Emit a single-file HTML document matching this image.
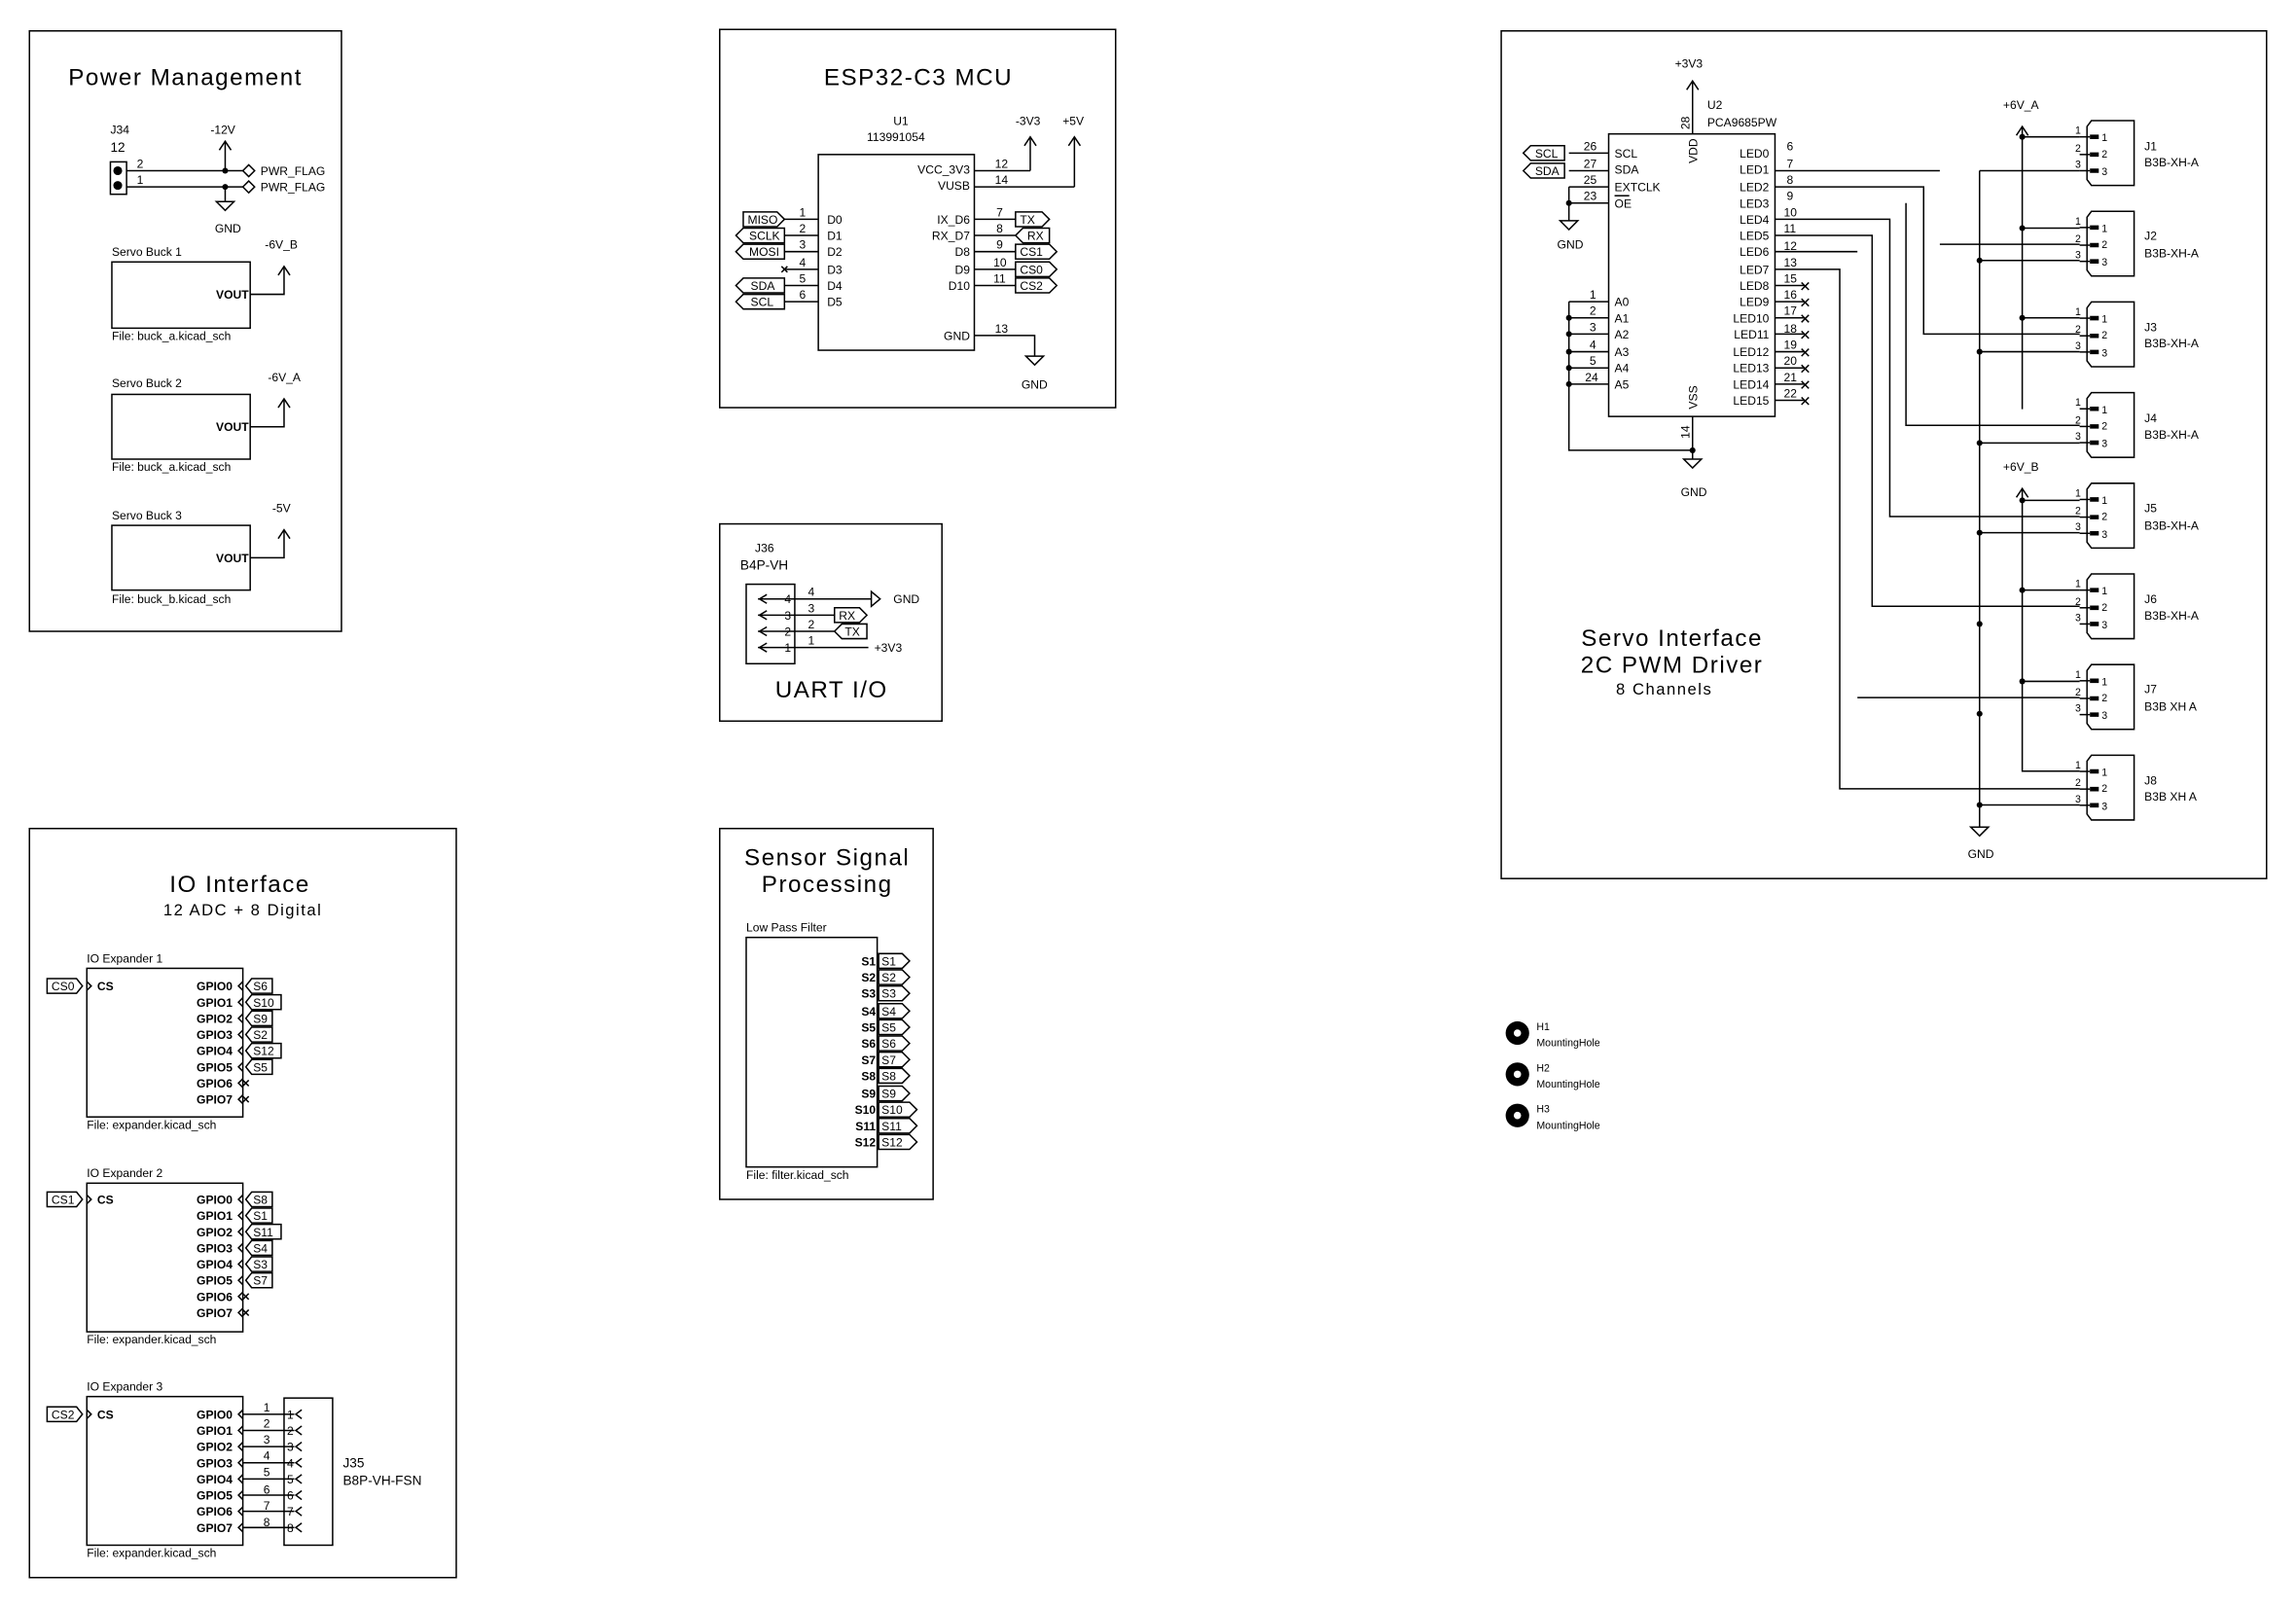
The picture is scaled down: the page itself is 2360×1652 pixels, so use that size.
<!DOCTYPE html>
<html><head><meta charset="utf-8"><style>
html,body{margin:0;padding:0;background:#fff;}
svg{display:block;}
text{font-family:"Liberation Sans",sans-serif;fill:#000;}
.t{font-size:16px;letter-spacing:1px;}
.s{font-size:8px;}
.m{font-size:9px;}
.b{font-size:8px;font-weight:bold;}
line,polyline,rect,polygon,path{stroke:#000;stroke-width:1;fill:none;}
.d{fill:#000;stroke:none;}
</style></head><body>
<svg width="2360" height="1652" viewBox="0 0 1560 1092" xmlns="http://www.w3.org/2000/svg">
<rect x="0" y="0" width="1560" height="1092" style="fill:#fff;stroke:none"/>

<!-- ===== Power Management ===== -->
<rect x="20" y="21" width="212" height="408"/>
<text class="t" x="126" y="58" text-anchor="middle">Power Management</text>
<text class="s" x="75" y="91">J34</text>
<text class="m" x="75" y="103">12</text>
<rect x="75" y="110" width="11" height="22"/>
<circle cx="80" cy="116" r="3"/><circle cx="80" cy="126" r="3"/>
<line x1="86" y1="116" x2="165" y2="116"/><line x1="86" y1="127" x2="165" y2="127"/>
<text class="s" x="93" y="114">2</text><text class="s" x="93" y="125">1</text>
<circle class="d" cx="153" cy="116" r="2"/><circle class="d" cx="153" cy="127" r="2"/>
<line x1="153" y1="116" x2="153" y2="97"/><polyline points="149,102 153,96 157,102"/>
<text class="s" x="143" y="91">-12V</text>
<line x1="153" y1="127" x2="153" y2="137"/><polygon points="147,137 159,137 153,143"/>
<text class="s" x="146" y="158">GND</text>
<polygon points="165,116 169,112 173,116 169,120"/><polygon points="165,127 169,123 173,127 169,131"/>
<text class="s" x="177" y="119">PWR_FLAG</text><text class="s" x="177" y="130">PWR_FLAG</text>

<text class="s" x="76" y="174">Servo Buck 1</text>
<rect x="76" y="178" width="94" height="45"/>
<text class="b" x="169" y="203" text-anchor="end">VOUT</text>
<polyline points="170,200 193,200 193,182"/><polyline points="189,187 193,181 197,187"/>
<text class="s" x="180" y="169">-6V_B</text>
<text class="s" x="76" y="231">File: buck_a.kicad_sch</text>

<text class="s" x="76" y="263">Servo Buck 2</text>
<rect x="76" y="268" width="94" height="44"/>
<text class="b" x="169" y="293" text-anchor="end">VOUT</text>
<polyline points="170,290 193,290 193,272"/><polyline points="189,277 193,271 197,277"/>
<text class="s" x="182" y="259">-6V_A</text>
<text class="s" x="76" y="320">File: buck_a.kicad_sch</text>

<text class="s" x="76" y="353">Servo Buck 3</text>
<rect x="76" y="357" width="94" height="44"/>
<text class="b" x="169" y="382" text-anchor="end">VOUT</text>
<polyline points="170,379 193,379 193,361"/><polyline points="189,366 193,360 197,366"/>
<text class="s" x="185" y="348">-5V</text>
<text class="s" x="76" y="410">File: buck_b.kicad_sch</text>

<!-- ===== ESP32 ===== -->
<rect x="489" y="20" width="269" height="257"/>
<text class="t" x="624" y="58" text-anchor="middle">ESP32-C3 MCU</text>
<text class="s" x="607" y="85">U1</text>
<text class="s" x="589" y="96">113991054</text>
<rect x="556" y="105" width="106" height="133"/>
<text class="s" x="662" y="118" text-anchor="end" dx="-3">VCC_3V3</text>
<text class="s" x="662" y="129" text-anchor="end" dx="-3">VUSB</text>
<line x1="662" y1="116" x2="700" y2="116"/><line x1="662" y1="127" x2="730" y2="127"/>
<text class="s" x="676" y="114">12</text><text class="s" x="676" y="125">14</text>
<line x1="700" y1="116" x2="700" y2="94"/><polyline points="696,99 700,93 704,99"/>
<line x1="730" y1="127" x2="730" y2="94"/><polyline points="726,99 730,93 734,99"/>
<text class="s" x="690" y="85">-3V3</text><text class="s" x="722" y="85">+5V</text>
<!-- left pins -->
<g>
<line x1="533" y1="149" x2="556" y2="149"/><line x1="533" y1="160" x2="556" y2="160"/>
<line x1="533" y1="171" x2="556" y2="171"/><line x1="533" y1="183" x2="556" y2="183"/>
<line x1="533" y1="194" x2="556" y2="194"/><line x1="533" y1="205" x2="556" y2="205"/>
<text class="s" x="543" y="147">1</text><text class="s" x="543" y="158">2</text><text class="s" x="543" y="169">3</text>
<text class="s" x="543" y="181">4</text><text class="s" x="543" y="192">5</text><text class="s" x="543" y="203">6</text>
<text class="s" x="562" y="152">D0</text><text class="s" x="562" y="163">D1</text><text class="s" x="562" y="174">D2</text>
<text class="s" x="562" y="186">D3</text><text class="s" x="562" y="197">D4</text><text class="s" x="562" y="208">D5</text>
<path d="M531,181 l4,4 M535,181 l-4,4"/>
<polygon points="505,144 528,144 533,149 528,154 505,154"/><text class="s" x="508" y="152">MISO</text>
<polygon points="500,160 505,155 533,155 533,165 505,165"/><text class="s" x="509" y="163">SCLK</text>
<polygon points="500,171 505,166 533,166 533,176 505,176"/><text class="s" x="509" y="174">MOSI</text>
<polygon points="500,194 505,189 533,189 533,199 505,199"/><text class="s" x="510" y="197">SDA</text>
<polygon points="500,205 505,200 533,200 533,210 505,210"/><text class="s" x="510" y="208">SCL</text>
</g>
<!-- right pins -->
<g>
<line x1="662" y1="149" x2="690" y2="149"/><line x1="662" y1="160" x2="690" y2="160"/>
<line x1="662" y1="171" x2="690" y2="171"/><line x1="662" y1="183" x2="690" y2="183"/>
<line x1="662" y1="194" x2="690" y2="194"/>
<text class="s" x="677" y="147">7</text><text class="s" x="677" y="158">8</text><text class="s" x="677" y="169">9</text>
<text class="s" x="675" y="181">10</text><text class="s" x="675" y="192">11</text>
<text class="s" x="659" y="152" text-anchor="end">IX_D6</text><text class="s" x="659" y="163" text-anchor="end">RX_D7</text>
<text class="s" x="659" y="174" text-anchor="end">D8</text><text class="s" x="659" y="186" text-anchor="end">D9</text>
<text class="s" x="659" y="197" text-anchor="end">D10</text>
<polygon points="690,144 708,144 713,149 708,154 690,154"/><text class="s" x="693" y="152">TX</text>
<polygon points="690,160 695,155 713,155 713,165 695,165"/><text class="s" x="698" y="163">RX</text>
<polygon points="690,166 713,166 718,171 713,176 690,176"/><text class="s" x="693" y="174">CS1</text>
<polygon points="690,178 713,178 718,183 713,188 690,188"/><text class="s" x="693" y="186">CS0</text>
<polygon points="690,189 713,189 718,194 713,199 690,199"/><text class="s" x="693" y="197">CS2</text>
</g>
<text class="s" x="662" y="231" text-anchor="end" dx="-3">GND</text>
<polyline points="662,228 703,228 703,242"/><text class="s" x="676" y="226">13</text>
<polygon points="697,242 709,242 703,248"/>
<text class="s" x="694" y="264">GND</text>

<!-- ===== UART ===== -->
<rect x="489" y="356" width="151" height="134"/>
<text class="s" x="513" y="375">J36</text>
<text class="m" x="503" y="387">B4P-VH</text>
<rect x="507" y="397" width="33" height="54"/>
<line x1="515" y1="407" x2="592" y2="407"/><line x1="515" y1="418" x2="567" y2="418"/>
<line x1="515" y1="429" x2="567" y2="429"/><line x1="515" y1="440" x2="590" y2="440"/>
<polyline points="521,404 516,407 521,410"/><polyline points="521,415 516,418 521,421"/>
<polyline points="521,426 516,429 521,432"/><polyline points="521,437 516,440 521,443"/>
<text class="s" x="533" y="410">4</text><text class="s" x="533" y="421">3</text><text class="s" x="533" y="432">2</text><text class="s" x="533" y="443">1</text>
<text class="s" x="549" y="405">4</text><text class="s" x="549" y="416">3</text><text class="s" x="549" y="427">2</text><text class="s" x="549" y="438">1</text>
<polygon points="592,402 592,412 598,407"/><text class="s" x="607" y="410">GND</text>
<polygon points="567,413 584,413 589,418 584,423 567,423"/><text class="s" x="570" y="421">RX</text>
<polygon points="567,429 572,424 589,424 589,434 572,434"/><text class="s" x="574" y="432">TX</text>
<text class="s" x="594" y="443">+3V3</text>
<text class="t" x="565" y="474" text-anchor="middle">UART I/O</text>

<!-- ===== Sensor ===== -->
<rect x="489" y="563" width="145" height="252"/>
<text class="t" x="562" y="588" text-anchor="middle">Sensor Signal</text>
<text class="t" x="562" y="606" text-anchor="middle">Processing</text>
<text class="s" x="507" y="633">Low Pass Filter</text>
<rect x="507" y="637" width="89" height="156"/>
<g class="b">
<text class="b" x="595" y="656" text-anchor="end">S1</text><text class="b" x="595" y="667" text-anchor="end">S2</text>
<text class="b" x="595" y="678" text-anchor="end">S3</text><text class="b" x="595" y="690" text-anchor="end">S4</text>
<text class="b" x="595" y="701" text-anchor="end">S5</text><text class="b" x="595" y="712" text-anchor="end">S6</text>
<text class="b" x="595" y="723" text-anchor="end">S7</text><text class="b" x="595" y="734" text-anchor="end">S8</text>
<text class="b" x="595" y="746" text-anchor="end">S9</text><text class="b" x="595" y="757" text-anchor="end">S10</text>
<text class="b" x="595" y="768" text-anchor="end">S11</text><text class="b" x="595" y="779" text-anchor="end">S12</text>
</g>
<polygon points="597,648 613,648 618,653 613,658 597,658"/><text class="s" x="599" y="656">S1</text>
<polygon points="597,659 613,659 618,664 613,669 597,669"/><text class="s" x="599" y="667">S2</text>
<polygon points="597,670 613,670 618,675 613,680 597,680"/><text class="s" x="599" y="678">S3</text>
<polygon points="597,682 613,682 618,687 613,692 597,692"/><text class="s" x="599" y="690">S4</text>
<polygon points="597,693 613,693 618,698 613,703 597,703"/><text class="s" x="599" y="701">S5</text>
<polygon points="597,704 613,704 618,709 613,714 597,714"/><text class="s" x="599" y="712">S6</text>
<polygon points="597,715 613,715 618,720 613,725 597,725"/><text class="s" x="599" y="723">S7</text>
<polygon points="597,726 613,726 618,731 613,736 597,736"/><text class="s" x="599" y="734">S8</text>
<polygon points="597,738 613,738 618,743 613,748 597,748"/><text class="s" x="599" y="746">S9</text>
<polygon points="597,749 618,749 623,754 618,759 597,759"/><text class="s" x="599" y="757">S10</text>
<polygon points="597,760 618,760 623,765 618,770 597,770"/><text class="s" x="599" y="768">S11</text>
<polygon points="597,771 618,771 623,776 618,781 597,781"/><text class="s" x="599" y="779">S12</text>
<text class="s" x="507" y="801">File: filter.kicad_sch</text>

<!-- ===== IO Interface ===== -->
<rect x="20" y="563" width="290" height="509"/>
<text class="t" x="163" y="606" text-anchor="middle">IO Interface</text>
<text class="m" x="165" y="622" text-anchor="middle" style="font-size:11px;letter-spacing:1px">12 ADC + 8 Digital</text>

<!-- Expander 1 -->
<text class="s" x="59" y="654">IO Expander 1</text>
<rect x="59" y="658" width="106" height="101"/>
<polygon points="32,665 52,665 56,670 52,675 32,675"/><text class="s" x="35" y="673">CS0</text>
<text class="b" x="66" y="673">CS</text><polyline points="59,667 62,670 59,673"/>
<g>
<text class="b" x="158" y="673" text-anchor="end">GPIO0</text><text class="b" x="158" y="684" text-anchor="end">GPIO1</text>
<text class="b" x="158" y="695" text-anchor="end">GPIO2</text><text class="b" x="158" y="706" text-anchor="end">GPIO3</text>
<text class="b" x="158" y="717" text-anchor="end">GPIO4</text><text class="b" x="158" y="728" text-anchor="end">GPIO5</text>
<text class="b" x="158" y="739" text-anchor="end">GPIO6</text><text class="b" x="158" y="750" text-anchor="end">GPIO7</text>
</g>
<path d="M165,667 l-3,3 l3,3 M165,678 l-3,3 l3,3 M165,689 l-3,3 l3,3 M165,700 l-3,3 l3,3 M165,711 l-3,3 l3,3 M165,722 l-3,3 l3,3 M165,733 l-3,3 l3,3 M165,744 l-3,3 l3,3"/>
<path d="M165,734 l4,4 M169,734 l-4,4 M165,745 l4,4 M169,745 l-4,4"/>
<polygon points="167,670 171,665 185,665 185,675 171,675"/><text class="s" x="172" y="673">S6</text>
<polygon points="167,681 171,676 191,676 191,686 171,686"/><text class="s" x="172" y="684">S10</text>
<polygon points="167,692 171,687 185,687 185,697 171,697"/><text class="s" x="172" y="695">S9</text>
<polygon points="167,703 171,698 185,698 185,708 171,708"/><text class="s" x="172" y="706">S2</text>
<polygon points="167,714 171,709 191,709 191,719 171,719"/><text class="s" x="172" y="717">S12</text>
<polygon points="167,725 171,720 185,720 185,730 171,730"/><text class="s" x="172" y="728">S5</text>
<text class="s" x="59" y="767">File: expander.kicad_sch</text>

<!-- Expander 2 -->
<text class="s" x="59" y="800">IO Expander 2</text>
<rect x="59" y="804" width="106" height="101"/>
<polygon points="32,810 52,810 56,815 52,820 32,820"/><text class="s" x="35" y="818">CS1</text>
<text class="b" x="66" y="818">CS</text><polyline points="59,812 62,815 59,818"/>
<g>
<text class="b" x="158" y="818" text-anchor="end">GPIO0</text><text class="b" x="158" y="829" text-anchor="end">GPIO1</text>
<text class="b" x="158" y="840" text-anchor="end">GPIO2</text><text class="b" x="158" y="851" text-anchor="end">GPIO3</text>
<text class="b" x="158" y="862" text-anchor="end">GPIO4</text><text class="b" x="158" y="873" text-anchor="end">GPIO5</text>
<text class="b" x="158" y="884" text-anchor="end">GPIO6</text><text class="b" x="158" y="895" text-anchor="end">GPIO7</text>
</g>
<path d="M165,812 l-3,3 l3,3 M165,823 l-3,3 l3,3 M165,834 l-3,3 l3,3 M165,845 l-3,3 l3,3 M165,856 l-3,3 l3,3 M165,867 l-3,3 l3,3 M165,878 l-3,3 l3,3 M165,889 l-3,3 l3,3"/>
<path d="M165,879 l4,4 M169,879 l-4,4 M165,890 l4,4 M169,890 l-4,4"/>
<polygon points="167,815 171,810 185,810 185,820 171,820"/><text class="s" x="172" y="818">S8</text>
<polygon points="167,826 171,821 185,821 185,831 171,831"/><text class="s" x="172" y="829">S1</text>
<polygon points="167,837 171,832 191,832 191,842 171,842"/><text class="s" x="172" y="840">S11</text>
<polygon points="167,848 171,843 185,843 185,853 171,853"/><text class="s" x="172" y="851">S4</text>
<polygon points="167,859 171,854 185,854 185,864 171,864"/><text class="s" x="172" y="862">S3</text>
<polygon points="167,870 171,865 185,865 185,875 171,875"/><text class="s" x="172" y="873">S7</text>
<text class="s" x="59" y="913">File: expander.kicad_sch</text>

<!-- Expander 3 -->
<text class="s" x="59" y="945">IO Expander 3</text>
<rect x="59" y="949" width="106" height="101"/>
<polygon points="32,956 52,956 56,961 52,966 32,966"/><text class="s" x="35" y="964">CS2</text>
<text class="b" x="66" y="964">CS</text><polyline points="59,958 62,961 59,964"/>
<g>
<text class="b" x="158" y="964" text-anchor="end">GPIO0</text><text class="b" x="158" y="975" text-anchor="end">GPIO1</text>
<text class="b" x="158" y="986" text-anchor="end">GPIO2</text><text class="b" x="158" y="997" text-anchor="end">GPIO3</text>
<text class="b" x="158" y="1008" text-anchor="end">GPIO4</text><text class="b" x="158" y="1019" text-anchor="end">GPIO5</text>
<text class="b" x="158" y="1030" text-anchor="end">GPIO6</text><text class="b" x="158" y="1041" text-anchor="end">GPIO7</text>
</g>
<path d="M165,958 l-3,3 l3,3 M165,969 l-3,3 l3,3 M165,980 l-3,3 l3,3 M165,991 l-3,3 l3,3 M165,1002 l-3,3 l3,3 M165,1013 l-3,3 l3,3 M165,1024 l-3,3 l3,3 M165,1035 l-3,3 l3,3"/>
<path d="M165,961 H200 M165,972 H200 M165,983 H200 M165,994 H200 M165,1005 H200 M165,1016 H200 M165,1027 H200 M165,1038 H200"/>
<path d="M205,958 l-4,3 l4,3 M205,969 l-4,3 l4,3 M205,980 l-4,3 l4,3 M205,991 l-4,3 l4,3 M205,1002 l-4,3 l4,3 M205,1013 l-4,3 l4,3 M205,1024 l-4,3 l4,3 M205,1035 l-4,3 l4,3"/>
<g>
<text class="s" x="179" y="959">1</text><text class="s" x="179" y="970">2</text><text class="s" x="179" y="981">3</text><text class="s" x="179" y="992">4</text>
<text class="s" x="179" y="1003">5</text><text class="s" x="179" y="1015">6</text><text class="s" x="179" y="1026">7</text><text class="s" x="179" y="1037">8</text>
<text class="s" x="195" y="964">1</text><text class="s" x="195" y="975">2</text><text class="s" x="195" y="986">3</text><text class="s" x="195" y="997">4</text>
<text class="s" x="195" y="1008">5</text><text class="s" x="195" y="1019">6</text><text class="s" x="195" y="1030">7</text><text class="s" x="195" y="1041">8</text>
</g>
<rect x="193" y="950" width="33" height="100"/>
<text class="m" x="233" y="997">J35</text>
<text class="m" x="233" y="1009">B8P-VH-FSN</text>
<text class="s" x="59" y="1058">File: expander.kicad_sch</text>

<!-- ===== Servo Interface ===== -->
<rect x="1020" y="21" width="520" height="576"/>
<text class="t" x="1136" y="439" text-anchor="middle">Servo Interface</text>
<text class="t" x="1136" y="457" text-anchor="middle">2C PWM Driver</text>
<text class="m" x="1098" y="472" style="font-size:11px;letter-spacing:1px">8 Channels</text>

<rect x="1093" y="91" width="113" height="192"/>
<text class="s" x="1138" y="46">+3V3</text>
<line x1="1150" y1="56" x2="1150" y2="91"/><polyline points="1146,61 1150,55 1154,61"/>
<text class="s" x="1148" y="88" transform="rotate(-90 1148 88)">28</text>
<text class="s" x="1153" y="111" transform="rotate(-90 1153 111)">VDD</text>
<text class="s" x="1160" y="74">U2</text><text class="s" x="1160" y="86">PCA9685PW</text>
<g>
<text class="s" x="1097" y="107">SCL</text><text class="s" x="1097" y="118">SDA</text>
<text class="s" x="1097" y="130">EXTCLK</text><text class="s" x="1097" y="141">OE</text>
<line x1="1097" y1="133" x2="1107" y2="133"/>
<line x1="1066" y1="104" x2="1093" y2="104"/><line x1="1066" y1="116" x2="1093" y2="116"/>
<line x1="1066" y1="127" x2="1093" y2="127"/><line x1="1066" y1="138" x2="1093" y2="138"/>
<text class="s" x="1076" y="102">26</text><text class="s" x="1076" y="114">27</text>
<text class="s" x="1076" y="125">25</text><text class="s" x="1076" y="136">23</text>
<polyline points="1066,127 1066,150"/><circle class="d" cx="1066" cy="138" r="2"/>
<polygon points="1060,150 1072,150 1066,156"/><text class="s" x="1058" y="169">GND</text>
<polygon points="1035,104 1040,99 1063,99 1063,109 1040,109"/><text class="s" x="1043" y="107">SCL</text>
<polygon points="1035,116 1040,111 1063,111 1063,121 1040,121"/><text class="s" x="1043" y="119">SDA</text>
</g>
<g>
<text class="s" x="1097" y="208">A0</text><text class="s" x="1097" y="219">A1</text><text class="s" x="1097" y="230">A2</text>
<text class="s" x="1097" y="242">A3</text><text class="s" x="1097" y="253">A4</text><text class="s" x="1097" y="264">A5</text>
<path d="M1066,205 H1093 M1066,216 H1093 M1066,227 H1093 M1066,239 H1093 M1066,250 H1093 M1066,261 H1093"/>
<text class="s" x="1080" y="203">1</text><text class="s" x="1080" y="214">2</text><text class="s" x="1080" y="225">3</text>
<text class="s" x="1080" y="237">4</text><text class="s" x="1080" y="248">5</text><text class="s" x="1077" y="259">24</text>
<polyline points="1066,205 1066,306 1150,306"/>
<circle class="d" cx="1066" cy="216" r="2"/><circle class="d" cx="1066" cy="227" r="2"/><circle class="d" cx="1066" cy="239" r="2"/>
<circle class="d" cx="1066" cy="250" r="2"/><circle class="d" cx="1066" cy="261" r="2"/>
<line x1="1150" y1="283" x2="1150" y2="312"/><circle class="d" cx="1150" cy="306" r="2"/>
<polygon points="1144,312 1156,312 1150,318"/><text class="s" x="1142" y="337">GND</text>
<text class="s" x="1148" y="298" transform="rotate(-90 1148 298)">14</text>
<text class="s" x="1153" y="278" transform="rotate(-90 1153 278)">VSS</text>
</g>
<g>
<text class="s" x="1202" y="107" text-anchor="end">LED0</text><text class="s" x="1202" y="118" text-anchor="end">LED1</text>
<text class="s" x="1202" y="130" text-anchor="end">LED2</text><text class="s" x="1202" y="141" text-anchor="end">LED3</text>
<text class="s" x="1202" y="152" text-anchor="end">LED4</text><text class="s" x="1202" y="163" text-anchor="end">LED5</text>
<text class="s" x="1202" y="174" text-anchor="end">LED6</text><text class="s" x="1202" y="186" text-anchor="end">LED7</text>
<text class="s" x="1202" y="197" text-anchor="end">LED8</text><text class="s" x="1202" y="208" text-anchor="end">LED9</text>
<text class="s" x="1202" y="219" text-anchor="end">LED10</text><text class="s" x="1202" y="230" text-anchor="end">LED11</text>
<text class="s" x="1202" y="242" text-anchor="end">LED12</text><text class="s" x="1202" y="253" text-anchor="end">LED13</text>
<text class="s" x="1202" y="264" text-anchor="end">LED14</text><text class="s" x="1202" y="275" text-anchor="end">LED15</text>
<text class="s" x="1214" y="102">6</text><text class="s" x="1214" y="114">7</text><text class="s" x="1214" y="125">8</text>
<text class="s" x="1214" y="136">9</text><text class="s" x="1212" y="147">10</text><text class="s" x="1212" y="158">11</text>
<text class="s" x="1212" y="170">12</text><text class="s" x="1212" y="181">13</text><text class="s" x="1212" y="192">15</text>
<text class="s" x="1212" y="203">16</text><text class="s" x="1212" y="214">17</text><text class="s" x="1212" y="226">18</text>
<text class="s" x="1212" y="237">19</text><text class="s" x="1212" y="248">20</text><text class="s" x="1212" y="259">21</text>
<text class="s" x="1212" y="270">22</text>
<path d="M1206,194 H1226 M1206,205 H1226 M1206,216 H1226 M1206,227 H1226 M1206,239 H1226 M1206,250 H1226 M1206,261 H1226 M1206,272 H1226"/>
<path d="M1224,192 l5,5 M1229,192 l-5,5 M1224,203 l5,5 M1229,203 l-5,5 M1224,214 l5,5 M1229,214 l-5,5 M1224,225 l5,5 M1229,225 l-5,5 M1224,237 l5,5 M1229,237 l-5,5 M1224,248 l5,5 M1229,248 l-5,5 M1224,259 l5,5 M1229,259 l-5,5 M1224,270 l5,5 M1229,270 l-5,5"/>
<!-- LED wires -->
<line x1="1206" y1="116" x2="1318" y2="116"/>
<polyline points="1206,127 1307,127 1307,227 1413,227"/>
<polyline points="1295,138 1295,289 1413,289"/>
<polyline points="1206,149 1284,149 1284,351 1413,351"/>
<polyline points="1206,160 1272,160 1272,412 1413,412"/>
<line x1="1206" y1="171" x2="1262" y2="171"/>
<polyline points="1206,183 1250,183 1250,536 1413,536"/>
<line x1="1318" y1="166" x2="1413" y2="166"/>
<line x1="1262" y1="474" x2="1413" y2="474"/>
</g>
<!-- power rails -->
<text class="s" x="1361" y="74">+6V_A</text>
<line x1="1374" y1="86" x2="1374" y2="278"/><polyline points="1370,92 1374,86 1378,92"/>
<text class="s" x="1361" y="320">+6V_B</text>
<polyline points="1374,332 1374,524 1413,524"/><polyline points="1370,338 1374,332 1378,338"/>
<path d="M1374,93 H1413 M1374,155 H1413 M1374,216 H1413 M1374,340 H1413 M1374,401 H1413 M1374,463 H1413"/>
<circle class="d" cx="1374" cy="93" r="2"/><circle class="d" cx="1374" cy="155" r="2"/><circle class="d" cx="1374" cy="216" r="2"/>
<circle class="d" cx="1374" cy="340" r="2"/><circle class="d" cx="1374" cy="401" r="2"/><circle class="d" cx="1374" cy="463" r="2"/>
<line x1="1345" y1="116" x2="1345" y2="562"/>
<path d="M1345,116 H1413 M1345,177 H1413 M1345,239 H1413 M1345,301 H1413 M1345,362 H1413 M1345,547 H1413"/>
<circle class="d" cx="1345" cy="177" r="2"/><circle class="d" cx="1345" cy="239" r="2"/><circle class="d" cx="1345" cy="301" r="2"/>
<circle class="d" cx="1345" cy="362" r="2"/><circle class="d" cx="1345" cy="424" r="2"/><circle class="d" cx="1345" cy="485" r="2"/>
<circle class="d" cx="1345" cy="547" r="2"/>
<polygon points="1339,562 1351,562 1345,568"/><text class="s" x="1337" y="583">GND</text>

<!-- connectors -->
<g id="c1">
<polygon points="1421,82 1450,82 1450,126 1421,126 1418,122 1418,86"/>
<path d="M1420,93 h6 M1420,105 h6 M1420,116 h6" style="stroke-width:3"/>
<text class="s" x="1428" y="96" style="font-size:7px">1</text><text class="s" x="1428" y="107" style="font-size:7px">2</text><text class="s" x="1428" y="119" style="font-size:7px">3</text>
<text class="s" x="1410" y="91" style="font-size:7px">1</text><text class="s" x="1410" y="103" style="font-size:7px">2</text><text class="s" x="1410" y="114" style="font-size:7px">3</text>
<line x1="1413" y1="93" x2="1420" y2="93"/><line x1="1413" y1="105" x2="1420" y2="105"/><line x1="1413" y1="116" x2="1420" y2="116"/>
</g>
<use href="#c1" y="61.6"/><use href="#c1" y="123.2"/><use href="#c1" y="184.8"/>
<use href="#c1" y="246.4"/><use href="#c1" y="308"/><use href="#c1" y="369.6"/><use href="#c1" y="431.2"/>
<g>
<text class="s" x="1457" y="102">J1</text><text class="s" x="1457" y="113">B3B-XH-A</text>
<text class="s" x="1457" y="163">J2</text><text class="s" x="1457" y="175">B3B-XH-A</text>
<text class="s" x="1457" y="225">J3</text><text class="s" x="1457" y="236">B3B-XH-A</text>
<text class="s" x="1457" y="287">J4</text><text class="s" x="1457" y="298">B3B-XH-A</text>
<text class="s" x="1457" y="348">J5</text><text class="s" x="1457" y="360">B3B-XH-A</text>
<text class="s" x="1457" y="410">J6</text><text class="s" x="1457" y="421">B3B-XH-A</text>
<text class="s" x="1457" y="471">J7</text><text class="s" x="1457" y="483">B3B XH A</text>
<text class="s" x="1457" y="533">J8</text><text class="s" x="1457" y="544">B3B XH A</text>
</g>

<!-- mounting holes -->
<circle class="d" cx="1031" cy="702" r="8"/><circle cx="1031" cy="702" r="2.5" style="fill:#fff;stroke:none"/>
<circle class="d" cx="1031" cy="730" r="8"/><circle cx="1031" cy="730" r="2.5" style="fill:#fff;stroke:none"/>
<circle class="d" cx="1031" cy="758" r="8"/><circle cx="1031" cy="758" r="2.5" style="fill:#fff;stroke:none"/>
<text class="s" x="1044" y="700" style="font-size:7px">H1</text><text class="s" x="1044" y="711" style="font-size:7px">MountingHole</text>
<text class="s" x="1044" y="728" style="font-size:7px">H2</text><text class="s" x="1044" y="739" style="font-size:7px">MountingHole</text>
<text class="s" x="1044" y="756" style="font-size:7px">H3</text><text class="s" x="1044" y="767" style="font-size:7px">MountingHole</text>
</svg>
</body></html>
